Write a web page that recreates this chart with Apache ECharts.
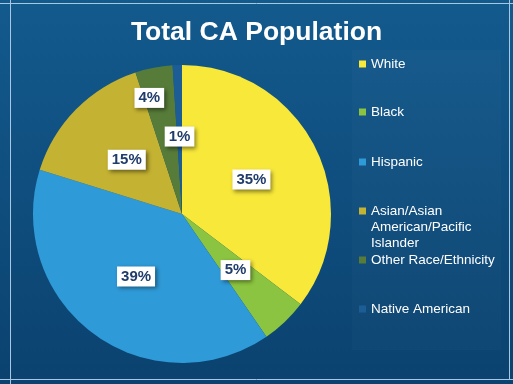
<!DOCTYPE html>
<html>
<head>
<meta charset="utf-8">
<script src="https://cdn.jsdelivr.net/npm/echarts@6/dist/echarts.min.js"></script>
<style>
html,body{margin:0;padding:0;background:#0e4d80;}
#c{width:513px;height:384px;}
</style>
</head>
<body>
<div id="c"></div>
<script>
const titleText = 'Total CA Population';
const categories = ['White', 'Black', 'Hispanic', 'Asian/Asian\nAmerican/Pacific\nIslander', 'Other Race/Ethnicity', 'Native American'];
const values = [35, 5, 39, 15, 4, 1];
const colors = ['#f8e83a', '#8bc440', '#2f9ad8', '#c4b232', '#577c39', '#1c5d96'];

const legendTops = [56, 104, 154, 171, 252, 301];
const FONT = '"Liberation Sans", Arial, sans-serif';

const chart = echarts.init(document.getElementById('c'), null, {renderer: 'canvas'});

const legends = categories.map((name, i) => {
  const multi = name.indexOf('\n') >= 0;
  return {
    data: [name],
    orient: 'vertical',
    left: 359,
    top: legendTops[i],
    padding: 0,
    itemWidth: 7,
    itemHeight: 7,
    icon: 'rect',
    selectedMode: false,
    formatter: multi ? function (n) { return '\n\n' + n; } : '{name}',
    textStyle: {
      color: '#ffffff',
      fontFamily: FONT,
      fontSize: 13.5,
      lineHeight: 16
    }
  };
});

chart.setOption({
  animation: false,
  backgroundColor: {
    type: 'linear', x: 0, y: 0, x2: 0, y2: 1,
    colorStops: [{offset: 0, color: '#135a8d'}, {offset: 1, color: '#0b426f'}]
  },
  title: {
    text: titleText,
    left: 'center',
    top: 14,
    textStyle: {
      color: '#ffffff',
      fontFamily: FONT,
      fontWeight: 'bold',
      fontSize: 26.5
    }
  },
  legend: legends,
  graphic: [
    {type: 'rect', shape: {x: 352, y: 50, width: 149, height: 300}, style: {fill: 'rgba(255,255,255,0.018)'}, z: -1},
    {type: 'line', shape: {x1: 0, y1: 3.5, x2: 513, y2: 3.5}, style: {stroke: '#a9c6e2', lineWidth: 1}},
    {type: 'line', shape: {x1: 10.5, y1: 0, x2: 10.5, y2: 384}, style: {stroke: '#a9c6e2', lineWidth: 1}},
    {type: 'line', shape: {x1: 509.5, y1: 0, x2: 509.5, y2: 380}, style: {stroke: '#a9c6e2', lineWidth: 1}},
    {type: 'line', shape: {x1: 0, y1: 379.5, x2: 513, y2: 379.5}, style: {stroke: '#a9c6e2', lineWidth: 1}}
  ],
  series: [{
    type: 'pie',
    center: [182, 214],
    radius: [0, 149],
    startAngle: 90,
    clockwise: true,
    color: colors,
    data: categories.map((n, i) => ({name: n, value: values[i]})),
    itemStyle: {borderWidth: 0},
    label: {
      show: true,
      position: 'inside',
      formatter: '{c}%',
      color: '#1f3c6a',
      fontFamily: FONT,
      fontWeight: 'bold',
      fontSize: 15,
      backgroundColor: '#ffffff',
      padding: [3, 4, 2, 4],
      shadowColor: 'rgba(0,0,0,0.45)',
      shadowBlur: 4,
      shadowOffsetX: 2,
      shadowOffsetY: 2
    },
    labelLine: {show: false},
    labelLayout: function (p) {
      if (p.dataIndex === 4) return {dx: -18, dy: -40};
      return {};
    },
    emphasis: {disabled: true}
  }]
});
</script>
</body>
</html>
